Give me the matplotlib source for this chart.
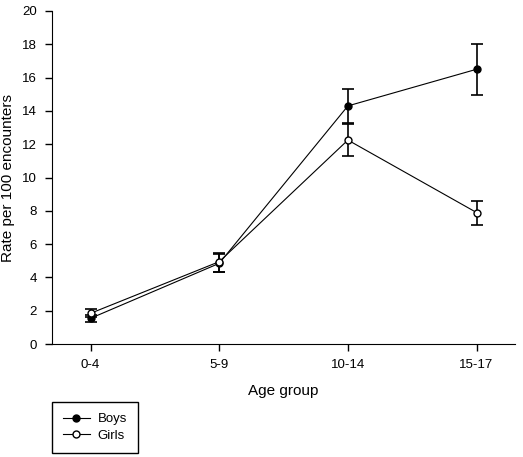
import numpy as np
import matplotlib.pyplot as plt

plt.rcParams['font.family'] = ['Liberation Sans', 'DejaVu Sans']

groups = ['0-4', '5-9', '10-14', '15-17']
boys = [1.55, 4.85, 14.3, 16.5]
boys_lo = [1.35, 4.35, 13.3, 14.95]
boys_hi = [1.75, 5.4, 15.3, 18.0]
girls = [1.85, 4.95, 12.25, 7.9]
girls_lo = [1.6, 4.35, 11.3, 7.15]
girls_hi = [2.1, 5.5, 13.2, 8.6]

x = np.arange(len(groups))
boys = np.array(boys)
girls = np.array(girls)
boys_err = [boys - np.array(boys_lo), np.array(boys_hi) - boys]
girls_err = [girls - np.array(girls_lo), np.array(girls_hi) - girls]

fig = plt.figure(figsize=(5.23, 4.57), dpi=100)
ax = fig.add_axes([0.0994, 0.247, 0.8856, 0.729])

ax.errorbar(x, boys, yerr=boys_err, color='black', lw=0.8, marker='o',
            markersize=5, mfc='black', mec='black', capsize=4, elinewidth=1.2,
            capthick=1.2, label='Boys', zorder=3)
ax.errorbar(x, girls, yerr=girls_err, color='black', lw=0.8, marker='o',
            markersize=5, mfc='white', mec='black', capsize=4, elinewidth=1.2,
            capthick=1.2, label='Girls', zorder=4)

ax.set_xlim(-0.3, 3.3)
ax.set_ylim(0, 20)
ax.set_xticks(x)
ax.set_xticklabels(groups)
ax.set_yticks(np.arange(0, 21, 2))
ax.spines['top'].set_visible(False)
ax.spines['right'].set_visible(False)
ax.tick_params(direction='out', length=5, width=1, labelsize=9.5, pad=6)
ax.set_xlabel('Age group', fontsize=11, labelpad=9)
ax.set_ylabel('Rate per 100 encounters', fontsize=11, labelpad=5)

handles, labels = ax.get_legend_handles_labels()
handles = [h[0] for h in handles]
fig.legend(handles, labels, loc='upper left', bbox_to_anchor=(52 / 523, 1 - 402 / 457),
           fancybox=False, edgecolor='black', framealpha=1, fontsize=9.5,
           handlelength=2.0, handletextpad=0.6, borderpad=0.85, labelspacing=0.3,
           borderaxespad=0)

fig.savefig('out.png', dpi=100)
